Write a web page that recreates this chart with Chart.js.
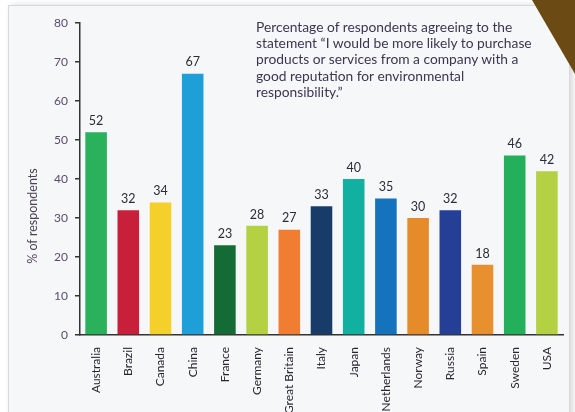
<!DOCTYPE html>
<html>
<head>
<meta charset="utf-8">
<script src="https://cdn.jsdelivr.net/npm/chart.js@4/dist/chart.umd.min.js"></script>
<style>
  html, body { margin: 0; padding: 0; background: #fff; }
  #wrap { position: relative; width: 575px; height: 412px; overflow: hidden; }
  #panel { position: absolute; left: 8px; top: 5px; width: 560px; height: 420px;
           background: #f6f7f8; border: 1px solid #d8d9db;
           box-shadow: 3px 0 6px rgba(0,0,0,0.15); }
  #corner { position: absolute; right: 0; top: 0; width: 43px; height: 78px;
            background: #6b4a14; clip-path: polygon(0 0, 100% 0, 100% 95%); }
  #note { position: absolute; left: 256px; top: 19px; font-family: Lato, sans-serif;
          font-size: 13.8px; line-height: 16.2px; color: #3d3552; white-space: pre; }
  canvas { position: absolute; left: 0; top: 0; }
</style>
</head>
<body>
<div id="wrap">
  <div id="panel"></div>
  <div id="corner"></div>
  <canvas id="chart" width="575" height="412"></canvas>
  <div id="note">Percentage of respondents agreeing to the
statement “I would be more likely to purchase
products or services from a company with a
good reputation for environmental
responsibility.”</div>
</div>
<script>
// data
const countries = ['Australia', 'Brazil', 'Canada', 'China', 'France', 'Germany', 'Great Britain',
  'Italy', 'Japan', 'Netherlands', 'Norway', 'Russia', 'Spain', 'Sweden', 'USA'];
const agreeing = [52, 32, 34, 67, 23, 28, 27, 33, 40, 35, 30, 32, 18, 46, 42];
const barColors = ['#2bb05c', '#c8203a', '#f5d02a', '#1f9fd8', '#146b35', '#b3d143', '#f07d32',
  '#173c6a', '#12b0a0', '#1572bd', '#e68b2a', '#253f96', '#e89030', '#24b05a', '#b3d143'];
const yTicks = [0, 10, 20, 30, 40, 50, 60, 70, 80];
const yTitle = '% of respondents';

// labels on top of the bars + y axis title (sits a bit below the middle in the original)
const extras = {
  id: 'extras',
  afterDatasetsDraw(chart) {
    const ctx = chart.ctx;
    const meta = chart.getDatasetMeta(0);
    ctx.save();
    ctx.font = '12.5px Lato, sans-serif';
    ctx.fillStyle = '#2e2a3a';
    ctx.textAlign = 'center';
    ctx.textBaseline = 'bottom';
    meta.data.forEach((bar, i) => {
      ctx.fillText(agreeing[i], bar.x, bar.y - 5);
    });
    ctx.restore();

    const y = chart.scales.y;
    ctx.save();
    ctx.translate(y.left + 33, y.getPixelForValue(30.5));
    ctx.rotate(-Math.PI / 2);
    ctx.font = '12.5px Lato, sans-serif';
    ctx.fillStyle = '#4e4258';
    ctx.textAlign = 'center';
    ctx.textBaseline = 'middle';
    ctx.fillText(yTitle, 0, 0);
    ctx.restore();
  }
};

new Chart(document.getElementById('chart'), {
  type: 'bar',
  data: {
    labels: countries,
    datasets: [{
      data: agreeing,
      backgroundColor: barColors,
      categoryPercentage: 1,
      barPercentage: 0.67
    }]
  },
  options: {
    responsive: false,
    animation: false,
    layout: { padding: { top: 23, right: 12, left: 0, bottom: 0 } },
    plugins: { legend: { display: false }, tooltip: { enabled: false } },
    scales: {
      x: {
        grid: { display: false },
        border: { display: true, color: '#333', width: 1.5 },
        ticks: {
          minRotation: 90, maxRotation: 90, autoSkip: false,
          color: '#2a2630', font: { family: 'Lato, sans-serif', size: 12 }, padding: 4
        },
        afterFit(scale) { scale.height = 77; }
      },
      y: {
        min: 0, max: 80,
        afterBuildTicks(scale) { scale.ticks = yTicks.map(v => ({ value: v })); },
        grid: { drawOnChartArea: false, drawTicks: true, tickLength: 5, color: '#333', lineWidth: 1.5 },
        border: { display: true, color: '#333', width: 1.5 },
        ticks: { color: '#5a4a6e', font: { family: 'Lato, sans-serif', size: 12 }, padding: 7 },
        afterFit(scale) { scale.width = 80; }
      }
    }
  },
  plugins: [extras]
});
</script>
</body>
</html>
